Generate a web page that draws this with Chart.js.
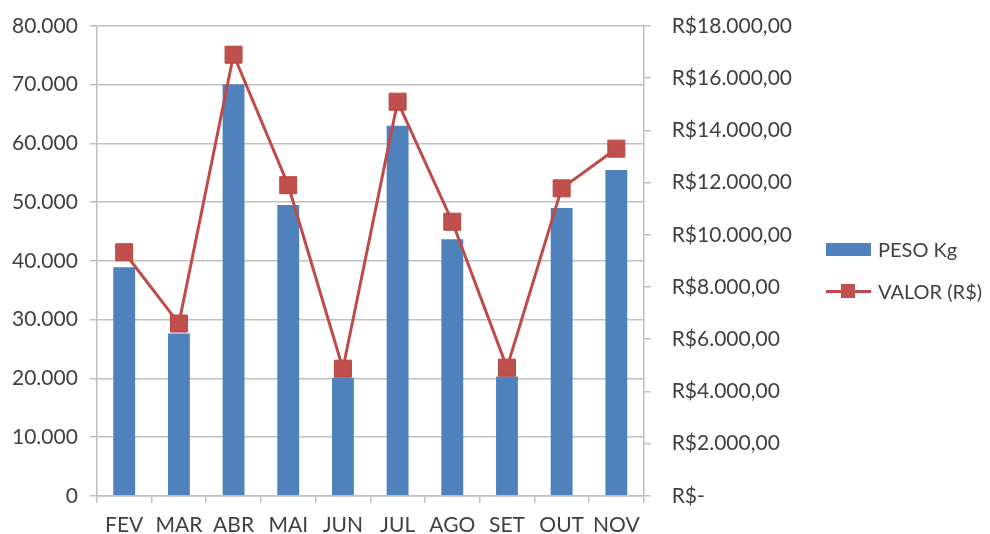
<!DOCTYPE html>
<html>
<head>
<meta charset="utf-8">
<script src="https://cdn.jsdelivr.net/npm/chart.js@4/dist/chart.umd.min.js"></script>
<style>
  body { margin: 0; background: #fff; }
  #wrap { position: relative; width: 990px; height: 534px; }
  #legenda { position: absolute; left: 826px; top: 235px; font-family: Lato, 'DejaVu Sans', sans-serif; font-size: 20px; color: #404040; }
  #legenda .item { position: relative; height: 42px; line-height: 28px; padding-left: 52px; white-space: nowrap; }
  #legenda .caixa { position: absolute; left: 0; top: 8px; width: 45px; height: 13px; }
  #legenda .linha { position: absolute; left: 0; top: 13px; width: 45px; height: 3px; }
  #legenda .marca { position: absolute; left: 15px; top: 7px; width: 14px; height: 14px; }
</style>
</head>
<body>
<div id="wrap"><canvas id="myChart"></canvas><div id="legenda"></div></div>
<script>
// categories and series
var meses = ["FEV", "MAR", "ABR", "MAI", "JUN", "JUL", "AGO", "SET", "OUT", "NOV"];
var peso = [38900, 27650, 70100, 49500, 20100, 63000, 43700, 20300, 49000, 55500];
var valor = [9330, 6600, 16900, 11900, 4870, 15100, 10500, 4910, 11780, 13300];
var pesoTicks = [0, 10000, 20000, 30000, 40000, 50000, 60000, 70000, 80000];
var valorTicks = [0, 2000, 4000, 6000, 8000, 10000, 12000, 14000, 16000, 18000];

var azul = "#4f81bd";
var vermelho = "#c0504d";
var linhaCor = "#be4b48";
var cinza = "#bfbfbf";
var texto = "#404040";
var fonte = "Lato, 'DejaVu Sans', sans-serif";

function milhar(v) {
  return Math.round(v).toString().replace(/\B(?=(\d{3})+(?!\d))/g, ".");
}
function reais(v) {
  if (v == 0) return "R$-";
  return "R$" + milhar(v) + ",00";
}

var chart = new Chart("myChart", {
  type: "bar",
  data: {
    labels: meses,
    datasets: [{
      label: "PESO Kg",
      data: peso,
      backgroundColor: azul,
      yAxisID: "y",
      barPercentage: 0.4,
      categoryPercentage: 1,
      order: 2
    }, {
      type: "line",
      label: "VALOR (R$)",
      data: valor,
      borderColor: linhaCor,
      backgroundColor: vermelho,
      borderWidth: 3,
      pointStyle: "rect",
      pointRadius: 12,
      pointBorderWidth: 1,
      pointBorderColor: "#b8463f",
      pointBackgroundColor: vermelho,
      tension: 0,
      yAxisID: "y1",
      order: 1
    }]
  },
  options: {
    responsive: true,
    maintainAspectRatio: false,
    animation: false,
    layout: { padding: { top: 26, left: 0, right: 177, bottom: -14 } },
    plugins: {
      tooltip: { enabled: false },
      legend: { display: false }
    },
    scales: {
      x: {
        grid: { display: true, offset: true, drawOnChartArea: false, color: cinza, tickLength: 7, lineWidth: 1.5 },
        border: { color: cinza, width: 1.5 },
        ticks: { color: texto, font: { family: fonte, size: 21 }, padding: 10 }
      },
      y: {
        position: "left",
        min: 0, max: 80000,
        afterBuildTicks: function (axis) { axis.ticks = pesoTicks.map(function (v) { return { value: v }; }); },
        grid: { color: cinza, lineWidth: 1.5, tickLength: 7 },
        border: { color: cinza, width: 1.5 },
        ticks: { color: texto, font: { family: fonte, size: 21 }, padding: 12,
          callback: function (v) { return milhar(v); } }
      },
      y1: {
        position: "right",
        min: 0, max: 18000,
        afterBuildTicks: function (axis) { axis.ticks = valorTicks.map(function (v) { return { value: v }; }); },
        // the big label gap should not push the plot down
        afterFit: function (axis) { axis.paddingTop = 13; axis.paddingBottom = 13; },
        grid: { drawOnChartArea: false, color: cinza, lineWidth: 1.5, tickLength: 7 },
        border: { color: cinza, width: 1.5 },
        ticks: { color: texto, font: { family: fonte, size: 21 }, padding: 21,
          callback: function (v) { return reais(v); } }
      }
    }
  }
});

// html legend built from the datasets (chart.js puts too little room on the right)
var leg = document.getElementById("legenda");
chart.data.datasets.forEach(function (ds) {
  var item = document.createElement("div");
  item.className = "item";
  if (ds.type == "line") {
    var l = document.createElement("span");
    l.className = "linha";
    l.style.background = ds.borderColor;
    var m = document.createElement("span");
    m.className = "marca";
    m.style.background = ds.pointBackgroundColor;
    item.appendChild(l);
    item.appendChild(m);
  } else {
    var c = document.createElement("span");
    c.className = "caixa";
    c.style.background = ds.backgroundColor;
    item.appendChild(c);
  }
  item.appendChild(document.createTextNode(ds.label));
  leg.appendChild(item);
});
</script>
</body>
</html>
